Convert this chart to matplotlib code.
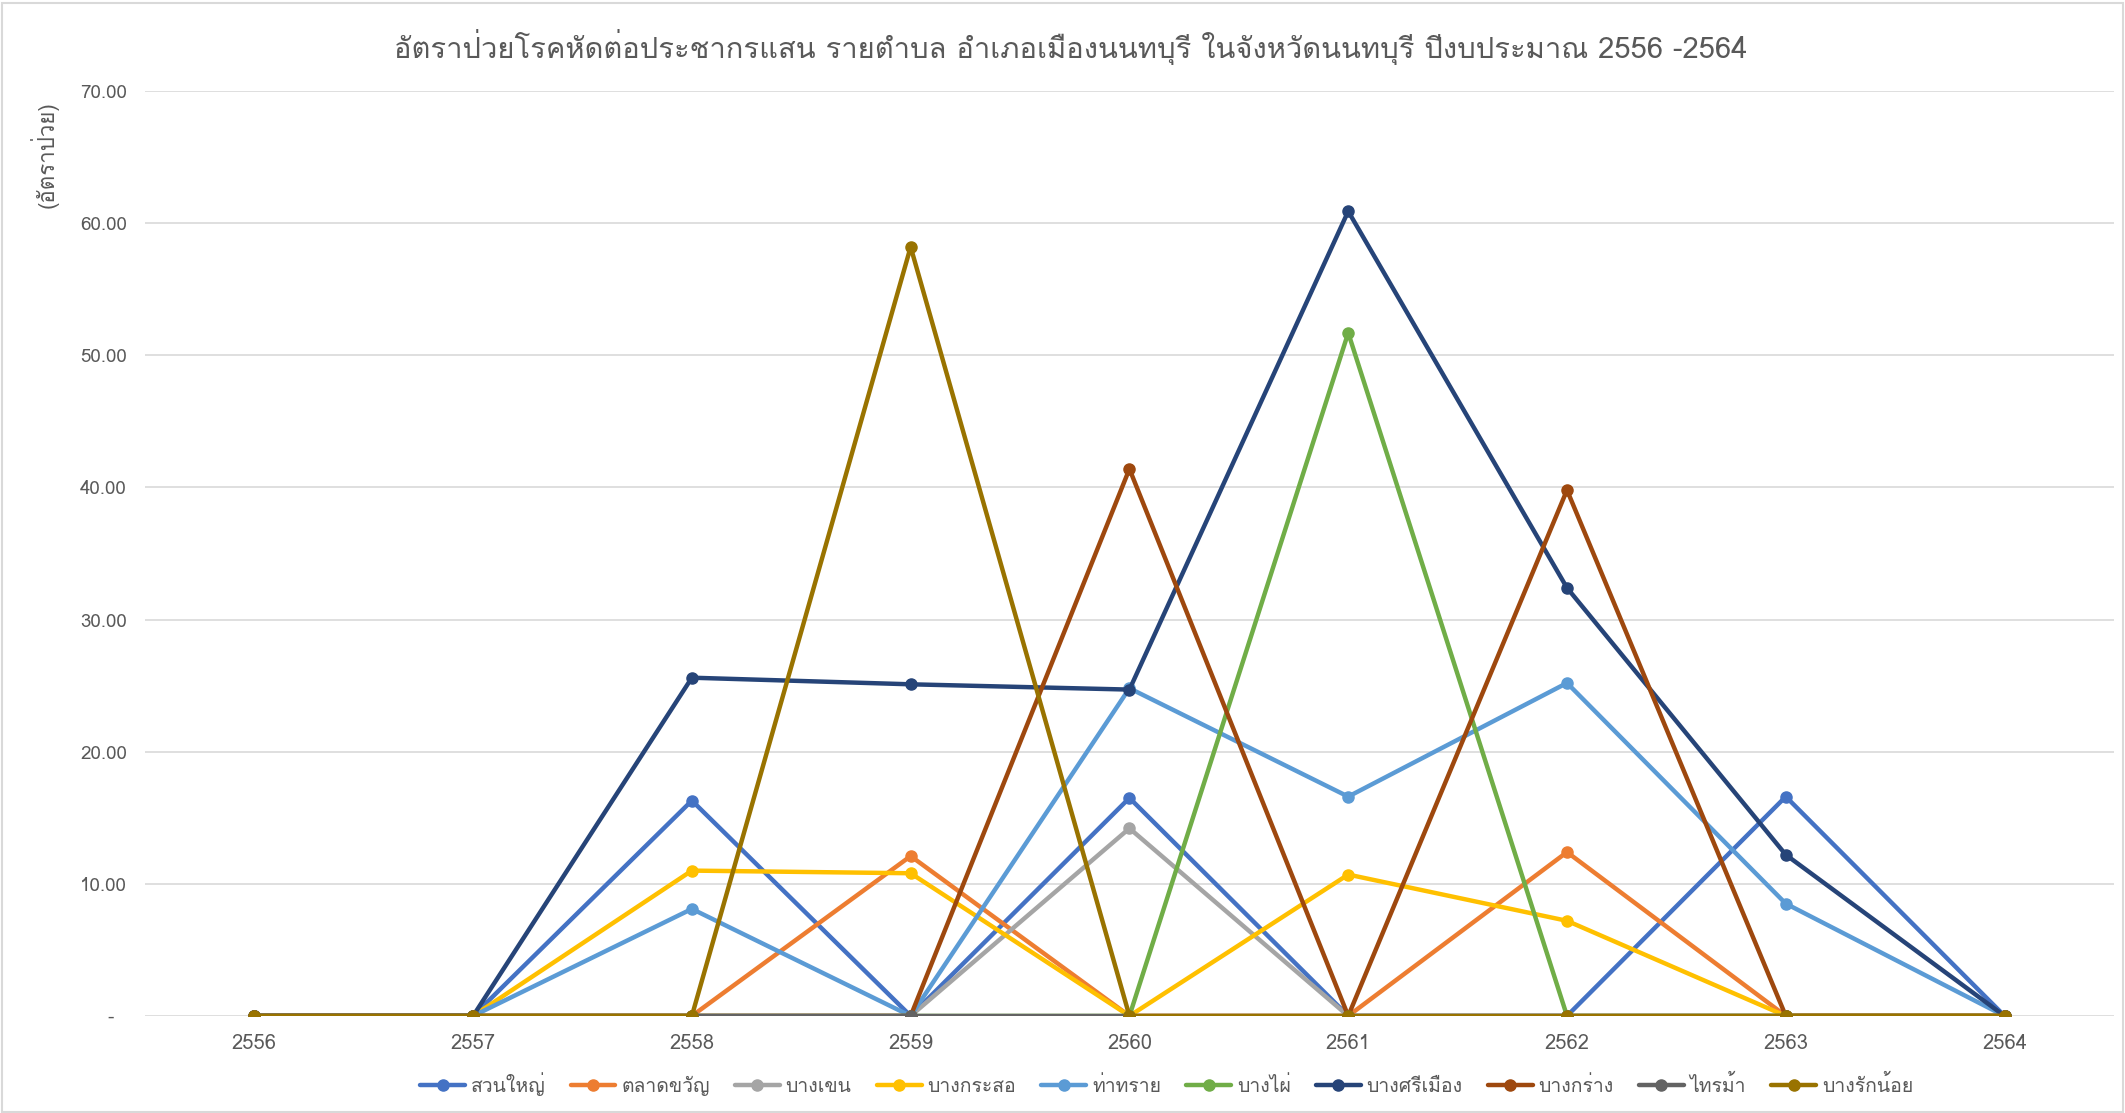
import matplotlib
matplotlib.use("Agg")
import matplotlib.pyplot as plt
from matplotlib.patches import Rectangle
from matplotlib.ticker import FuncFormatter

THAI = ["Loma", "Noto Sans Thai", "DejaVu Sans"]

years = ["2556", "2557", "2558", "2559", "2560", "2561", "2562", "2563", "2564"]

suan_yai = [0, 0, 16.3, 0, 16.5, 0, 0, 16.6, 0]
talad_kwan = [0, 0, 0, 12.1, 0, 0, 12.4, 0, 0]
bang_khen = [0, 0, 0, 0, 14.2, 0, 0, 0, 0]
bang_kraso = [0, 0, 11.0, 10.8, 0, 10.7, 7.2, 0, 0]
tha_sai = [0, 0, 8.1, 0, 24.8, 16.6, 25.2, 8.5, 0]
bang_phai = [0, 0, 0, 0, 0, 51.7, 0, 0, 0]
bang_si_mueang = [0, 0, 25.6, 25.1, 24.7, 60.9, 32.4, 12.2, 0]
bang_krang = [0, 0, 0, 0, 41.4, 0, 39.8, 0, 0]
sai_ma = [0, 0, 0, 0, 0, 0, 0, 0, 0]
bang_rak_noi = [0, 0, 0, 58.2, 0, 0, 0, 0, 0]

names = ["สวนใหญ่", "ตลาดขวัญ", "บางเขน", "บางกระสอ", "ท่าทราย",
         "บางไผ่", "บางศรีเมือง", "บางกร่าง", "ไทรม้า", "บางรักน้อย"]
series = [suan_yai, talad_kwan, bang_khen, bang_kraso, tha_sai,
          bang_phai, bang_si_mueang, bang_krang, sai_ma, bang_rak_noi]
colors = ["#4472C4", "#ED7D31", "#A5A5A5", "#FFC000", "#5B9BD5",
          "#70AD47", "#264478", "#9E480E", "#636363", "#997300"]

TEXT_GREY = "#595959"

fig = plt.figure(figsize=(21.25, 11.13), dpi=100)
fig.patches.append(Rectangle((0.001, 0.001), 0.998, 0.996, transform=fig.transFigure,
                             fill=False, edgecolor="#D9D9D9", linewidth=1.5))
ax = fig.add_axes([0.0682, 0.0872, 0.9266, 0.831])

x = range(len(years))
for name, vals, c in zip(names, series, colors):
    ax.plot(x, vals, color=c, linewidth=3.2, marker="o", markersize=8,
            label=name, solid_capstyle="round")

ax.set_xlim(-0.5, len(years) - 0.5)
ax.set_ylim(0, 70)
ax.set_yticks(range(0, 71, 10))
ax.yaxis.set_major_formatter(FuncFormatter(lambda v, _: "-  " if v == 0 else f"{v:.2f}"))
ax.set_xticks(list(x))
ax.set_xticklabels(years)
ax.grid(axis="y", color="#D9D9D9", linewidth=1.2)
ax.set_axisbelow(True)
for side in ["top", "right", "left", "bottom"]:
    ax.spines[side].set_visible(False)
ax.tick_params(axis="both", length=0, colors=TEXT_GREY)
ax.tick_params(axis="y", pad=13, labelsize=13.5)
ax.tick_params(axis="x", pad=13, labelsize=14.5)
for lbl in ax.get_xticklabels() + ax.get_yticklabels():
    lbl.set_family(THAI)

fig.text(0.504, 0.958, "อัตราป่วยโรคหัดต่อประชากรแสน รายตำบล อำเภอเมืองนนทบุรี ในจังหวัดนนทบุรี ปีงบประมาณ 2556 -2564",
         ha="center", va="center", fontsize=21, color=TEXT_GREY, family=THAI)
fig.text(0.021, 0.909, "(อัตราป่วย)", rotation=90, ha="center", va="top",
         fontsize=16, color=TEXT_GREY, family=THAI)

leg = fig.legend(loc="center", bbox_to_anchor=(0.549, 0.026), ncol=10, frameon=False,
                 handlelength=2.3, columnspacing=1.3, handletextpad=0.3,
                 prop={"family": THAI, "size": 14})
for t in leg.get_texts():
    t.set_color(TEXT_GREY)

fig.savefig("out.png", dpi=100)
